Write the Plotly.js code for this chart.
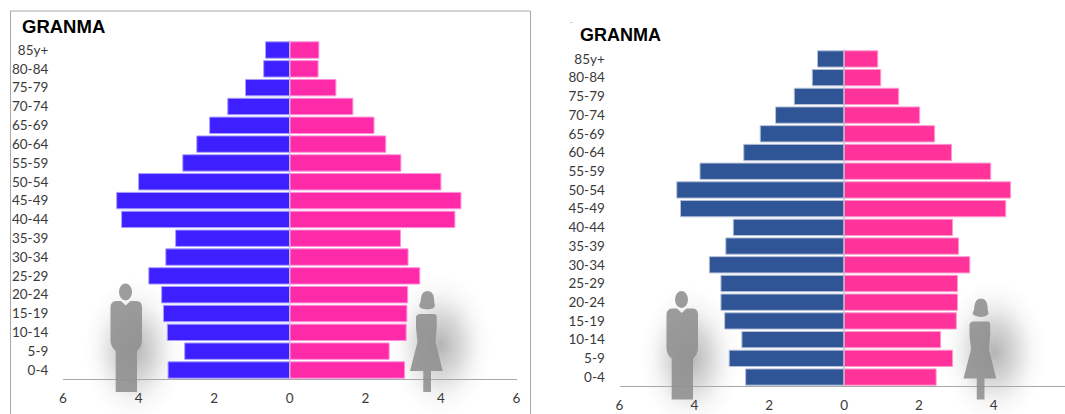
<!DOCTYPE html>
<html>
<head>
<meta charset="utf-8">
<script src="https://cdn.plot.ly/plotly-3.0.1.min.js"></script>
<style>html,body{margin:0;padding:0;background:#fff;overflow:hidden}</style>
</head>
<body>
<div id="chart" style="width:1065px;height:414px"></div>
<script>
// Age groups, youngest first so that 0-4 sits at the bottom of each pyramid
const ageGroups = ['0-4','5-9','10-14','15-19','20-24','25-29','30-34','35-39','40-44','45-49','50-54','55-59','60-64','65-69','70-74','75-79','80-84','85y+'];

// Left pyramid, percent of population
const leftMale   = [3.22,2.78,3.24,3.34,3.39,3.73,3.28,3.02,4.45,4.58,4.00,2.83,2.46,2.12,1.64,1.17,0.69,0.64];
const leftFemale = [3.04,2.63,3.08,3.10,3.12,3.44,3.13,2.93,4.37,4.53,4.00,2.94,2.54,2.23,1.67,1.22,0.75,0.77];

// Right pyramid, percent of population
const rightMale   = [2.63,3.07,2.73,3.19,3.29,3.29,3.60,3.16,2.96,4.37,4.47,3.85,2.68,2.24,1.83,1.33,0.85,0.71];
const rightFemale = [2.46,2.90,2.58,3.00,3.03,3.03,3.36,3.06,2.90,4.32,4.45,3.92,2.87,2.42,2.02,1.46,0.98,0.90];

const W = 1065, H = 414;
const px = x => x / W;
const py = y => 1 - y / H;

const fontFamily = 'Lato, "Open Sans", sans-serif';
const tickFont = {family: fontFamily, size: 13.5, color: '#3a3a3a'};

function barTrace(values, side, color, edge, xa, ya) {
  return {
    type: 'bar', orientation: 'h',
    y: ageGroups,
    x: values.map(v => side * v),
    xaxis: xa, yaxis: ya,
    marker: {color: color, line: {color: edge, width: 1}},
    hoverinfo: 'skip'
  };
}

const data = [
  barTrace(leftMale,   -1, '#3d1fff', '#a99dff', 'x',  'y'),
  barTrace(leftFemale,  1, '#ff2aa8', '#ff8fdc', 'x',  'y'),
  barTrace(rightMale,  -1, '#2f5597', '#b5c0d8', 'x2', 'y2'),
  barTrace(rightFemale, 1, '#ff3399', '#ff9ad0', 'x2', 'y2')
];

function xAxis(domain, anchor, range, vals) {
  return {
    domain: domain, anchor: anchor, range: range,
    tickvals: vals, ticktext: vals.map(v => String(Math.abs(v))),
    tickfont: tickFont, ticks: 'outside', ticklen: 6, tickcolor: 'rgba(0,0,0,0)',
    showgrid: false, zeroline: false,
    showline: true, linecolor: '#a8a8a8', linewidth: 1
  };
}
function yAxis(domain, anchor) {
  return {
    domain: domain, anchor: anchor, type: 'category',
    categoryorder: 'array', categoryarray: ageGroups,
    range: [-0.5, ageGroups.length - 0.5],
    tickmode: 'array', tickvals: ageGroups, ticktext: ageGroups,
    tickfont: tickFont, ticks: 'outside', ticklen: 11, tickcolor: 'rgba(0,0,0,0)',
    showgrid: false, zeroline: false, showline: false
  };
}

// Pictogram outlines in page pixels, drawn for the left panel and shifted for the right one
const manBody = [
  ['M',112,303],['Q',113,301,116,301],['L',121,301],['L',125.7,305.5],['L',130.5,301],['L',136,301],
  ['Q',142,301,142,307],['L',142,340],['Q',142,347,137,351],['L',137,392],['L',115.7,392],['L',115.7,351],
  ['Q',110.5,347,110.5,340],['L',110.5,307],['Q',110.5,304,112,303],['Z']
];
const womanHair = [
  ['M',419,306],['Q',421,302,421,298],['Q',422,291,427.5,291],['Q',433,291,434,298],['Q',434,302,435,306],
  ['Q',434,309,427.5,309.5],['Q',420,309,419,306],['Z']
];
const womanBody = [
  ['M',416,317],['Q',417,314,420,314],['L',434,314],['Q',436.7,314,436.7,317],['L',436.7,328],['L',435.5,342],
  ['L',442.7,371],['L',431,371],['L',431,392],['L',423.3,392],['L',423.3,371],['L',410,371],['L',417.5,342],['L',416,328],['Z']
];

function toPath(cmds, dx, dy) {
  return cmds.map(c => {
    let s = c[0];
    for (let i = 1; i < c.length; i += 2) {
      s += ' ' + px(c[i] + dx).toFixed(5) + ',' + py(c[i + 1] + dy).toFixed(5);
    }
    return s;
  }).join(' ');
}
const figureFill = '#8e8e8e';
function pictogram(cmds, dx, dy) {
  return {type: 'path', xref: 'paper', yref: 'paper', path: toPath(cmds, dx, dy),
          fillcolor: figureFill, opacity: 0.88, line: {width: 0}, layer: 'above'};
}
function manHead(dx, dy) {
  return {type: 'circle', xref: 'paper', yref: 'paper',
          x0: px(119 + dx), x1: px(132 + dx), y0: py(300.5 + dy), y1: py(283.5 + dy),
          fillcolor: figureFill, opacity: 0.88, line: {width: 0}, layer: 'above'};
}

const manShift = [556, 7.5], womanShift = [553.5, 7.5];
const shapes = [
  // Frame around the left panel, running off the bottom of the page
  {type: 'rect', xref: 'paper', yref: 'paper', x0: px(10.5), x1: px(530.5), y0: py(11), y1: py(430),
   line: {color: '#a9a9a9', width: 1}, fillcolor: 'rgba(0,0,0,0)', layer: 'below'},
  // Stray speck above the right title
  {type: 'rect', xref: 'paper', yref: 'paper', x0: px(570.5), x1: px(572), y0: py(22), y1: py(23),
   line: {width: 0}, fillcolor: '#b0b0b0', layer: 'below'},
  // Zero line of both pyramids
  {type: 'line', xref: 'x',  yref: 'y domain',  x0: 0, x1: 0, y0: 0, y1: 1, line: {color: '#c4bfe0', width: 1.2}, layer: 'above'},
  {type: 'line', xref: 'x2', yref: 'y2 domain', x0: 0, x1: 0, y0: 0, y1: 1, line: {color: '#b9bccb', width: 1.2}, layer: 'above'},
  pictogram(manBody, 0, 0), manHead(0, 0),
  pictogram(womanHair, 0, 0), pictogram(womanBody, 0, 0),
  pictogram(manBody, manShift[0], manShift[1]), manHead(manShift[0], manShift[1]),
  pictogram(womanHair, womanShift[0], womanShift[1]), pictogram(womanBody, womanShift[0], womanShift[1])
];

// Soft round shadow behind each pictogram
function glowImage() {
  const c = document.createElement('canvas');
  c.width = c.height = 128;
  const g = c.getContext('2d');
  const r = g.createRadialGradient(64, 64, 0, 64, 64, 64);
  r.addColorStop(0, 'rgba(90,90,90,0.46)');
  r.addColorStop(0.4, 'rgba(110,110,110,0.27)');
  r.addColorStop(0.75, 'rgba(150,150,150,0.07)');
  r.addColorStop(1, 'rgba(170,170,170,0)');
  g.fillStyle = r;
  g.fillRect(0, 0, 128, 128);
  return c.toDataURL('image/png');
}
const glow = glowImage();
function glowAt(cx, cy, rx, ry) {
  return {source: glow, xref: 'paper', yref: 'paper',
          x: px(cx - rx), y: py(cy - ry), sizex: 2 * rx / W, sizey: 2 * ry / H,
          sizing: 'stretch', xanchor: 'left', yanchor: 'top', layer: 'below'};
}
const images = [
  glowAt(134, 350, 50, 72),
  glowAt(440, 345, 52, 72),
  glowAt(690, 358, 50, 72),
  glowAt(994, 352, 52, 72)
];

function panelTitle(x, y, size) {
  return {text: '<b>GRANMA</b>', xref: 'paper', yref: 'paper', x: px(x), y: py(y),
          xanchor: 'left', yanchor: 'middle', showarrow: false,
          font: {family: '"Liberation Sans", Arial, sans-serif', size: size, color: '#000'}};
}

const layout = {
  width: W, height: H,
  margin: {l: 0, r: 0, t: 0, b: 0},
  paper_bgcolor: '#ffffff', plot_bgcolor: 'rgba(0,0,0,0)',
  barmode: 'overlay', bargap: 0.13,
  showlegend: false,
  xaxis:  xAxis([px(63), px(516.5)], 'y', [-6, 6], [-6, -4, -2, 0, 2, 4, 6]),
  yaxis:  yAxis([py(379.4), py(40.6)], 'x'),
  xaxis2: xAxis([px(619.5), px(1064.5)], 'y2', [-6, 5.89], [-6, -4, -2, 0, 2, 4]),
  yaxis2: yAxis([py(386.4), py(49.6)], 'x2'),
  shapes: shapes,
  images: images,
  annotations: [panelTitle(20, 26, 18.5), panelTitle(578, 35, 18)]
};

Plotly.newPlot('chart', data, layout, {displayModeBar: false, responsive: false});
</script>
</body>
</html>
